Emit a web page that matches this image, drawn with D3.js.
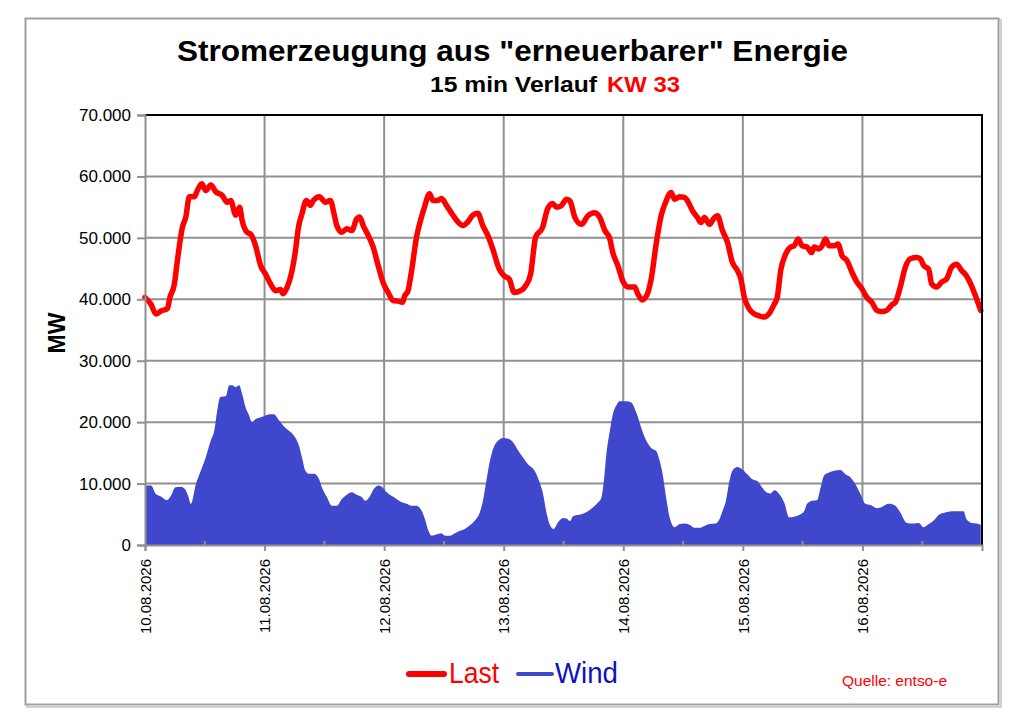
<!DOCTYPE html>
<html><head><meta charset="utf-8">
<script src="https://cdn.jsdelivr.net/npm/d3@7"></script>
<style>
html,body{margin:0;padding:0;background:#fff;}
svg{display:block;font-family:"Liberation Sans",Arial,sans-serif;}
</style></head>
<body>
<svg id="chart" width="1024" height="724"></svg>
<script>
// ---- data (hours since 10.08.2026 00:00, MW) ----
const dayLabels = ["10.08.2026","11.08.2026","12.08.2026","13.08.2026","14.08.2026","15.08.2026","16.08.2026"];
const yTicks = [0,10000,20000,30000,40000,50000,60000,70000];

const lastHours = [0,1.2,2.2,3.2,4.5,5,5.9,6.5,7.5,8.2,8.9,9.9,10.5,11.4,12.2,13.2,14.2,15.5,16.5,17.2,18.2,19,19.5,20.5,21.2,22.2,23.2,24.2,25.2,26.2,27.2,27.7,28.5,29.5,30.2,30.8,31.5,32.4,33.2,33.8,35,36.2,37.2,38,38.5,39.5,40.5,41.5,42.5,43.1,43.8,44.8,45.8,46.8,47.8,48.8,49.8,50.8,51.7,52.1,52.8,53.5,54.5,55.5,56.1,57.1,57.8,58.8,59.5,60.5,61.8,62.8,63.8,64.8,65.8,66.8,67.8,68.8,69.8,71.1,72.1,73.1,74.1,75.4,76.4,77.4,78.4,79.8,80.8,81.8,82.6,83.5,84.6,85.3,86.3,87.6,88.9,90.3,91.3,92.3,93.3,93.9,94.9,96,96.9,98.3,98.9,99.8,100.7,101.6,102.6,103.6,104.5,105.6,106.3,107.3,108.3,108.9,109.9,110.9,111.6,112.3,113.3,114.1,114.9,115.9,116.9,117.9,118.9,119.6,120.3,121.3,122.3,123.3,124.3,125.3,126.3,126.9,127.6,128.6,129.6,130.3,131.1,131.9,132.9,133.8,134.3,135.3,135.9,136.6,137.3,138.3,139.1,139.9,140.9,141.9,142.9,143.9,144.9,145.9,146.9,147.9,148.9,149.9,150.6,151.6,152.6,153.6,154.9,155.6,156.3,157.3,157.9,158.9,159.9,160.9,161.9,162.9,163.9,164.9,165.9,166.9,167.75];
const lastValues = [40300,39200,37600,38100,38500,40300,42500,46300,51700,53400,56700,56700,57700,58800,57700,58600,57500,56900,55800,56100,53700,55000,52800,50900,50600,48700,45500,44100,42500,41400,41600,40900,41900,44600,47900,51700,53900,56100,55300,56100,56700,55800,56100,53700,52000,50900,51500,51200,53100,53400,52000,50400,48500,45500,42700,41100,39800,39700,39500,40500,41400,44600,50100,53400,55000,57200,56100,56100,56400,55300,53700,52600,52000,52600,53700,54000,52000,50400,48200,44900,43800,43300,41100,41400,42200,44100,50100,51700,54700,55600,55000,55200,56300,56000,53300,52200,53600,54100,53300,51200,49800,47600,45500,42800,42000,42000,40900,39900,40600,43300,49000,53600,55800,57400,56300,56700,56600,56000,54400,53300,52500,53300,52200,53100,53600,51200,49300,46000,44700,43300,40300,38400,37600,37300,37100,37700,39200,40300,44700,47400,48500,48700,49800,48700,48500,47600,48500,48200,48700,49800,48700,48700,49000,47100,46300,44400,42800,41700,40300,39500,38200,38000,38200,39100,39500,42000,45200,46600,46800,46600,45500,44900,42500,42000,42800,43300,45200,45700,44700,43800,42200,40100,38200];

const windHours = [0,0.2,1.2,2.2,3.2,4.4,5.2,6.1,7.2,8,8.7,9.2,10.2,11.2,12.2,13.2,13.9,14.5,15.1,16.2,16.9,17.5,18.2,18.9,19.5,20.2,20.9,21.5,22.2,23.2,24.2,25.2,25.9,26.9,27.9,28.9,29.9,30.9,31.5,32.2,32.9,33.9,34.9,35.5,36.5,37.5,38.5,39.5,40.5,41.5,42.5,43.5,44.2,45.1,45.9,46.9,47.5,48.5,49.9,51.2,52.5,53.5,54.5,55.5,56.2,56.9,57.5,58.5,59.5,60.2,61.2,62.2,63.2,64.2,65.2,66.2,67.1,67.7,68.4,69.1,69.9,70.9,71.9,72.9,73.9,74.9,75.9,76.9,78.2,79.2,79.9,80.5,81.3,82,82.9,83.9,84.6,85.3,85.9,87.6,88.9,89.9,90.9,91.6,92.1,92.6,93.3,93.9,94.6,95.3,96.6,97.6,98.6,99.6,100.6,101.6,102.6,103.3,103.9,104.6,105.3,106.3,107.3,108.3,109.3,110.3,111.3,112.3,113.3,114.5,115.3,115.9,116.6,117.3,117.9,118.9,119.9,120.9,121.9,122.9,123.9,124.9,125.6,126.3,127.3,128.3,129.3,130.3,131.3,132.3,132.9,133.9,134.9,135.6,136.3,137.3,138.3,139.6,140.6,141.6,142.6,143.6,144.6,145.6,146.9,147.9,149.3,150.6,151.6,152.9,154.3,155.3,156.3,157.3,158.3,159.3,160.6,161.9,163.3,164.3,164.9,165.9,166.9,167.75];
const windValues = [9600,9700,9700,8300,7900,7300,8000,9400,9500,9100,7900,6700,9900,12100,14300,17000,18600,21900,24100,24200,26000,26000,25700,26000,24600,22400,21100,20000,20500,20800,21100,21300,21300,20300,19300,18600,17800,16200,14300,12100,11600,11600,10800,9400,7800,6400,6400,7500,8200,8600,8200,7800,7200,7900,9100,9700,9500,8600,7800,7100,6700,6400,6400,5600,4200,2300,1500,1700,1900,1500,1500,1900,2300,2600,3200,4000,5100,6700,9900,13200,15700,17000,17400,17300,16700,15400,14200,13100,12100,10200,8300,5600,3200,2600,3700,4400,4300,3900,4700,5000,5500,6100,6900,7700,10400,14800,18600,21300,22700,23400,23400,23200,21600,19100,17000,15800,15300,13700,11500,7700,4500,2900,3400,3500,3300,2800,2800,3100,3400,3500,4200,5500,7200,10400,12100,12700,12300,11500,10700,10400,9300,8500,8400,8900,8300,6900,4500,4600,4900,5500,6700,7200,7300,9300,11300,11800,12100,12200,11500,11000,9900,8300,6700,6500,6000,6200,6700,6400,5300,3600,3500,3600,2900,3400,4000,4900,5300,5500,5500,5500,4200,3600,3500,3300];

// ---- layout ----
const svg = d3.select("#chart");
const plot = {left:145, right:982, top:115, bottom:545};
const t0 = Date.UTC(2026,7,10);
const H = 3600*1000;
const x = d3.scaleUtc().domain([new Date(t0), new Date(t0+168*H)]).range([plot.left, plot.right]);
const y = d3.scaleLinear().domain([0,70000]).range([plot.bottom, plot.top]);
const de = d3.formatLocale({decimal:",", thousands:".", grouping:[3], currency:["","€"]});
const fmt = de.format(",");

// outer frame
svg.append("rect").attr("x",27).attr("y",20).attr("width",974).attr("height",687)
  .attr("fill","none").attr("stroke","#d0d0d0").attr("stroke-width",2);
svg.append("rect").attr("x",25.5).attr("y",18.5).attr("width",973).attr("height",686)
  .attr("fill","#fff").attr("stroke","#a0a0a0").attr("stroke-width",2);

// titles
svg.append("text").attr("x",177).attr("y",61)
  .attr("font-size",30).attr("font-weight","bold").attr("fill","#000")
  .attr("textLength",671).attr("lengthAdjust","spacingAndGlyphs")
  .text('Stromerzeugung aus "erneuerbarer" Energie');
svg.append("text").attr("x",430).attr("y",91.5)
  .attr("font-size",21.5).attr("font-weight","bold").attr("fill","#000")
  .attr("textLength",167).attr("lengthAdjust","spacingAndGlyphs").text("15 min Verlauf");
svg.append("text").attr("x",607).attr("y",91.5)
  .attr("font-size",21.5).attr("font-weight","bold").attr("fill","#ff0000")
  .attr("textLength",73).attr("lengthAdjust","spacingAndGlyphs").text("KW 33");

// y label
svg.append("text").attr("transform","translate(65,333) rotate(-90)").attr("text-anchor","middle")
  .attr("font-size",23).attr("font-weight","bold").text("MW");

// gridlines
const dayDates = d3.range(0,8).map(i=>new Date(t0+i*24*H));
const g = svg.append("g");
g.selectAll("line.h").data(yTicks.filter(v=>v>0 && v<70000)).join("line")
  .attr("x1",plot.left).attr("x2",plot.right).attr("y1",d=>y(d)).attr("y2",d=>y(d))
  .attr("stroke","#909090").attr("stroke-width",2);
g.selectAll("line.v").data(dayDates.slice(1,7)).join("line")
  .attr("x1",d=>x(d)).attr("x2",d=>x(d)).attr("y1",plot.top).attr("y2",plot.bottom)
  .attr("stroke","#909090").attr("stroke-width",2);

// wind area
const windData = windHours.map((h,i)=>({t:new Date(t0+h*H), v:windValues[i]}));
svg.append("path").datum(windData)
  .attr("d", d3.area().x(d=>x(d.t)).y0(plot.bottom).y1(d=>y(d.v)).curve(d3.curveMonotoneX))
  .attr("fill","#3f48cc");

// minor ticks (12:00)
svg.selectAll("line.mt").data(d3.range(0,7).map(i=>new Date(t0+(i*24+12)*H))).join("line")
  .attr("x1",d=>x(d)).attr("x2",d=>x(d)).attr("y1",plot.bottom).attr("y2",plot.bottom-4)
  .attr("stroke","#909090").attr("stroke-width",2);

// last line
const lastData = lastHours.map((h,i)=>({t:new Date(t0+h*H), v:lastValues[i]}));
svg.append("path").datum(lastData)
  .attr("d", d3.line().x(d=>x(d.t)).y(d=>y(d.v)).curve(d3.curveMonotoneX))
  .attr("fill","none").attr("stroke","#ff0000").attr("stroke-width",5.5)
  .attr("stroke-linejoin","round").attr("stroke-linecap","round");

// plot border top/right
svg.append("path").attr("d",`M${plot.left},${plot.top}H${plot.right}V${plot.bottom}`)
  .attr("fill","none").attr("stroke","#000").attr("stroke-width",2);

// y axis
const ya = svg.append("g").attr("transform",`translate(${plot.left},0)`)
  .call(d3.axisLeft(y).tickValues(yTicks).tickFormat(fmt).tickSize(8).tickPadding(6));
ya.select(".domain").attr("stroke","#909090").attr("stroke-width",2);
ya.selectAll(".tick line").attr("stroke","#909090").attr("stroke-width",2);
ya.selectAll(".tick text").attr("font-size",17).attr("fill","#000")
  .attr("font-family","'Liberation Sans',Arial,sans-serif");

// x axis
const xa = svg.append("g").attr("transform",`translate(0,${plot.bottom})`)
  .call(d3.axisBottom(x).tickValues(dayDates.slice(0,7)).tickFormat((d,i)=>dayLabels[i]).tickSize(6).tickPadding(6));
xa.select(".domain").attr("stroke","#909090").attr("stroke-width",2);
xa.selectAll(".tick line").attr("stroke","#909090").attr("stroke-width",2);
xa.selectAll(".tick text").attr("font-size",15).attr("fill","#000")
  .attr("font-family","'Liberation Sans',Arial,sans-serif")
  .attr("text-anchor","end").attr("transform","rotate(-90)")
  .attr("x",-14).attr("y",0).attr("dy","0.35em");

// legend
svg.append("line").attr("x1",409).attr("x2",444).attr("y1",674).attr("y2",674)
  .attr("stroke","#ff0000").attr("stroke-width",6).attr("stroke-linecap","round");
svg.append("text").attr("x",449).attr("y",683).attr("font-size",29).attr("fill","#ff0000")
  .attr("textLength",50).attr("lengthAdjust","spacingAndGlyphs").text("Last");
svg.append("line").attr("x1",518).attr("x2",552).attr("y1",674).attr("y2",674)
  .attr("stroke","#3f48cc").attr("stroke-width",4).attr("stroke-linecap","round");
svg.append("text").attr("x",555).attr("y",683).attr("font-size",29).attr("fill","#1010c0")
  .attr("textLength",63).attr("lengthAdjust","spacingAndGlyphs").text("Wind");
svg.append("text").attr("x",842).attr("y",686).attr("font-size",15).attr("fill","#ff0000")
  .attr("textLength",105).attr("lengthAdjust","spacingAndGlyphs").text("Quelle: entso-e");
</script>
</body></html>
